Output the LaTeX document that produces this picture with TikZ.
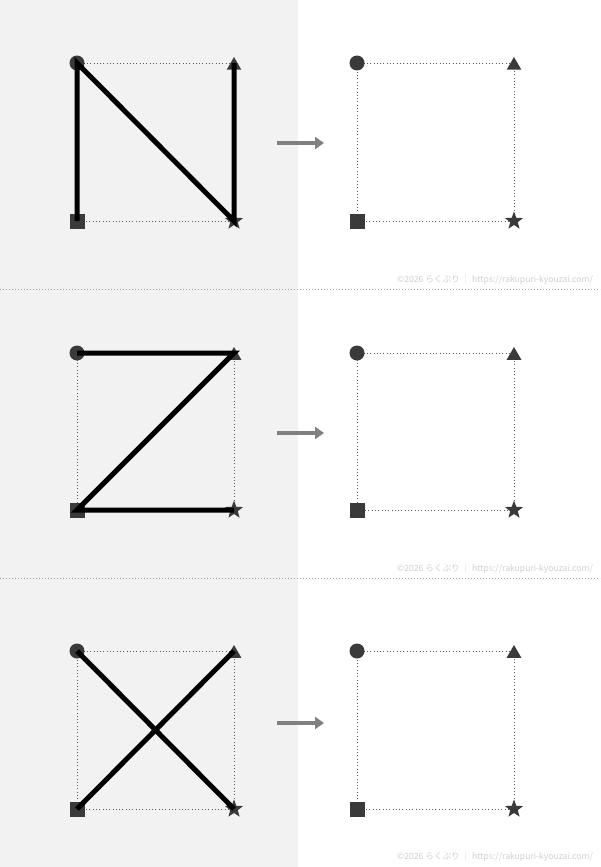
\documentclass[tikz,border=0pt]{standalone}
\usepackage{fontspec}
\newfontfamily\jpfont{Noto Sans CJK JP}
\usetikzlibrary{shapes.geometric,arrows.meta}

\definecolor{panelgray}{HTML}{F2F2F2}
\definecolor{markgray}{HTML}{3A3A3A}
\definecolor{guidegray}{HTML}{5A5A5A}
\definecolor{hintgray}{HTML}{808080}
\definecolor{creditgray}{HTML}{CFCFCF}

\tikzset{
    dotcorner/.style={circle, fill=markgray, minimum size=15pt, inner sep=0pt},
    boxcorner/.style={rectangle, fill=markgray, minimum size=15pt, inner sep=0pt},
    tricorner/.style={regular polygon, regular polygon sides=3, fill=markgray, minimum size=17pt, inner sep=0pt, yshift=-2.5pt},
    starcorner/.style={star, star points=5, star point ratio=2.4, fill=markgray, minimum size=19pt, inner sep=0pt},
    guide/.style={draw=guidegray, line width=0.9pt, dash pattern=on 0.9pt off 2.4pt},
    sepline/.style={draw=gray!70, line width=0.9pt, dash pattern=on 0.9pt off 2.1pt},
    stroke/.style={line width=5pt, black},
    hint/.style={draw=hintgray, line width=3.5pt, -{Triangle[length=9pt,width=12pt]}},
    credit/.style={text=creditgray, font=\jpfont\fontsize{8.6}{9}\selectfont, inner sep=0pt}
}

\begin{document}
\begin{tikzpicture}[x=1pt,y=-1pt]
    \useasboundingbox (0,0) rectangle (600,867);
	\fill[panelgray] (0,0) rectangle (298,867);
	\foreach \y in {289,578}
	    \draw[sepline] (0,\y) -- (600,\y);

	% corners, guides and marks of each panel
	\foreach \t/\b/\p in {63/221/1,353/510/2,651/809/3} {
	    \foreach \s/\dx in {L/0,R/280} {
	        \coordinate (tl\s\p) at (77+\dx,\t);
	        \coordinate (tr\s\p) at (234+\dx,\t);
	        \coordinate (bl\s\p) at (77+\dx,\b);
	        \coordinate (br\s\p) at (234+\dx,\b);
	        \draw[guide] (tl\s\p) -- (tr\s\p) -- (br\s\p) -- (bl\s\p) -- cycle;
	        \node[dotcorner] (dot\s\p) at (tl\s\p) {};
	        \node[tricorner] (tri\s\p) at (tr\s\p) {};
	        \node[boxcorner] (box\s\p) at (bl\s\p) {};
	        \node[starcorner] (star\s\p) at (br\s\p) {};
	    }
	}

	% arrows between the halves
	\foreach \m/\p in {143/1,433/2,723/3} {
	    \coordinate (from\p) at (277,\m);
	    \coordinate (to\p) at (324,\m);
	    \draw[hint] (from\p) -- (to\p);
	}

	% the strokes
	\draw[stroke] (blL1) -- (tlL1) -- (brL1) -- (trL1);
	\draw[stroke] (tlL2) -- (trL2) -- (blL2) -- (brL2);
	\draw[stroke] (tlL3) -- (brL3);
	\draw[stroke] (blL3) -- (trL3);

	\foreach \y/\p in {280/1,569/2,857/3}
	    \node[credit] (credit\p) at (495,\y) {©2026 らくぷり ｜ https://rakupuri-kyouzai.com/};
\end{tikzpicture}
\end{document}
